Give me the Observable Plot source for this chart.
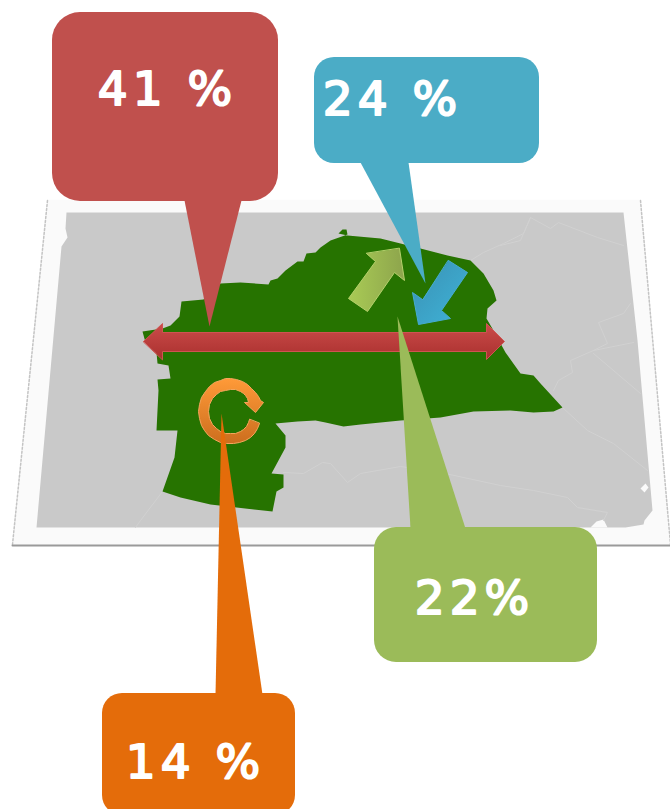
<!DOCTYPE html>
<html><head><meta charset="utf-8">
<script src="https://cdn.jsdelivr.net/npm/d3@7"></script>
<script src="https://cdn.jsdelivr.net/npm/@observablehq/plot@0.6"></script>
<style>html,body{margin:0;padding:0;background:#fff}svg{display:block}</style>
</head><body><div id="chart"></div>
<script>
const labels = ["41 %", "24 %", "22%", "14 %"];
const colors = ["#c0504d", "#4bacc6", "#9bbb59", "#e46c0a"];
const labelX = [167, 392, 474, 195];
const labelY = [89, 99, 598, 762];
const boxX1 = [52, 314, 374, 102];
const boxX2 = [278, 539, 597, 295];
const boxY1 = [12, 57, 527, 693];
const boxY2 = [201, 163, 662, 815];
const boxR = [28, 20, 22, 20];
const tails = [
  [[184,200],[209,326],[241,200]],
  [[360,162],[425,283],[408,162]],
  [[410,528],[397,316],[465,528]],
  [[215,694],[221,413],[262,694]]
];
const frameShape = [[47,200],[640,200],[670,544],[12,544]];
const sheetShape = [[66,212],[623,212],[637,340],[652,510],[644,520],[643,524],[625,527],[36,527],[61,246],[67,237],[65,228]];
const coastNotches = [
  [[640,488],[645,483],[648,487],[644,492]],
  [[590,527],[596,521],[603,519],[607,527]]
];
const borders = [
  [[553,390],[558,380],[572,372],[570,360],[593,350],[633,342]],
  [[593,350],[607,343],[598,322],[623,313],[630,303]],
  [[593,353],[640,393]],
  [[562,407],[587,430],[613,443],[647,470]],
  [[283,472],[303,473],[322,462],[330,463],[347,482],[360,473],[400,466],[440,472],[500,485],[533,490],[567,497],[577,507],[607,512],[603,520]],
  [[162,491],[140,520],[135,527]],
  [[470,260],[483,252],[503,243],[523,233],[530,217],[550,228],[558,222],[597,237],[623,245]],
  [[500,245],[520,240],[530,217]]
];
const district = [[338,233],[342,229],[346,229],[347,234],[330,240],[320,247],[315,252],[306,253],[303,261],[297,261],[285,270],[277,278],[270,280],[268,284],[240,282],[220,283],[203,299],[181,301],[179,316],[170,325],[162,328],[142,331],[145,342],[156,352],[157,363],[168,365],[170,378],[157,379],[158,390],[156,430],[177,430],[174,457],[162,491],[180,497],[210,504],[272,511],[276,491],[283,487],[283,474],[271,473],[285,447],[285,435],[275,423],[297,421],[315,420],[325,422],[343,426],[360,424],[400,420],[440,417],[473,411],[510,410],[533,412],[553,411],[562,407],[540,383],[533,375],[520,373],[505,352],[493,330],[486,318],[487,308],[496,300],[493,290],[483,273],[470,260],[447,255],[420,248],[400,243],[380,238],[347,235]];
const arrowWide = [[143,341],[162,323],[162,332],[486,332],[486,323],[504,341],[486,359],[486,351],[162,351],[162,359]];
const arrowUp = [[399,248],[404,280],[394,272],[367,311],[348,298],[375,261],[366,253]];
const arrowDown = [[448,260],[467,272],[441,310],[450,318],[418,324],[412,292],[422,299]];
const arrowLoop = [[259,423],[257,428],[254,433],[250,437],[245,440],[239,442],[233,443],[226,443],[220,442],[214,439],[208,435],[204,430],[201,425],[199,418],[198,411],[199,404],[201,397],[205,391],[209,386],[214,382],[220,380],[225,378],[230,378],[236,379],[242,381],[247,384],[251,388],[255,392],[258,396],[260,400],[263,402],[255,412],[244,402],[248,402],[247,398],[245,395],[243,393],[240,391],[235,389],[230,389],[225,390],[220,391],[216,394],[212,398],[209,404],[208,411],[209,418],[212,424],[216,428],[220,431],[225,433],[230,433],[235,433],[240,431],[243,429],[246,426],[248,422],[249,419]];
const districtColor = "#267300";

const poly = (pts, o) => Plot.line(pts, {x: d => d[0], y: d => d[1], curve: "linear-closed", ...o});
const gradients = () => {
  const defs = d3.create("svg:defs");
  const add = (id, x2, y2, a, b) => {
    const g = defs.append("linearGradient").attr("id", id).attr("x1", 0).attr("y1", 0).attr("x2", x2).attr("y2", y2);
    g.append("stop").attr("offset", "0%").attr("stop-color", a);
    g.append("stop").attr("offset", "100%").attr("stop-color", b);
  };
  add("gRed", 0, 1, "#cb4c4a", "#aa302e");
  add("gUp", 1, 0, "#a9cb55", "#8da44c");
  add("gDown", 1, 1, "#3a90b4", "#3fb4d8");
  add("gLoop", 0, 1, "#ff9a38", "#cc6e1e");
  return defs.node();
};

const chart = Plot.plot({
  width: 670, height: 809,
  margin: 0,
  x: {domain: [0, 670], range: [0, 670], axis: null},
  y: {domain: [0, 809], range: [0, 809], axis: null},
  style: {background: "#fff", fontFamily: "'DejaVu Sans'", letterSpacing: "5px", overflow: "hidden"},
  marks: [
    gradients,
    poly(frameShape, {fill: "#fafafa", stroke: "#fafafa"}),
    Plot.line([[47,200],[12,544]], {x: d=>d[0], y: d=>d[1], stroke: "#c4c4c4", strokeWidth: 1.5, strokeDasharray: "2,2"}),
    Plot.line([[640,200],[670,544]], {x: d=>d[0], y: d=>d[1], stroke: "#c4c4c4", strokeWidth: 1.5, strokeDasharray: "2,2"}),
    Plot.line([[12,545],[670,545]], {x: d=>d[0], y: d=>d[1], stroke: "#9a9a9a", strokeWidth: 2}),
    poly(sheetShape, {fill: "#c9c9c9", stroke: "none"}),
    ...coastNotches.map(n => poly(n, {fill: "#fafafa", stroke: "none"})),
    ...borders.map(b => Plot.line(b, {x: d=>d[0], y: d=>d[1], stroke: "#d1d1d1", strokeWidth: 1})),
    poly(district, {fill: districtColor, stroke: "none"}),
    poly(arrowUp, {fill: "url(#gUp)", stroke: "#b5d06c", strokeWidth: 1}),
    poly(arrowDown, {fill: "url(#gDown)", stroke: "#46abd0", strokeWidth: 1}),
    poly(arrowWide, {fill: "url(#gRed)", stroke: "#cf5452", strokeWidth: 1}),
    poly(arrowLoop, {fill: "url(#gLoop)", stroke: "#f5a55c", strokeWidth: 1}),
    ...tails.map((t, i) => poly(t, {fill: colors[i], stroke: "none"})),
    ...labels.map((_, i) => Plot.rect([i], {x1: boxX1[i], x2: boxX2[i], y1: boxY1[i], y2: boxY2[i], fill: colors[i], rx: boxR[i]})),
    Plot.text(labels, {x: (d,i) => labelX[i], y: (d,i) => labelY[i], text: d => d, fill: "#fff", stroke: "#fff", strokeWidth: 2, fontSize: 47, fontWeight: 400, textAnchor: "middle", lineAnchor: "middle"})
  ]
});
document.getElementById("chart").append(chart);
</script></body></html>
